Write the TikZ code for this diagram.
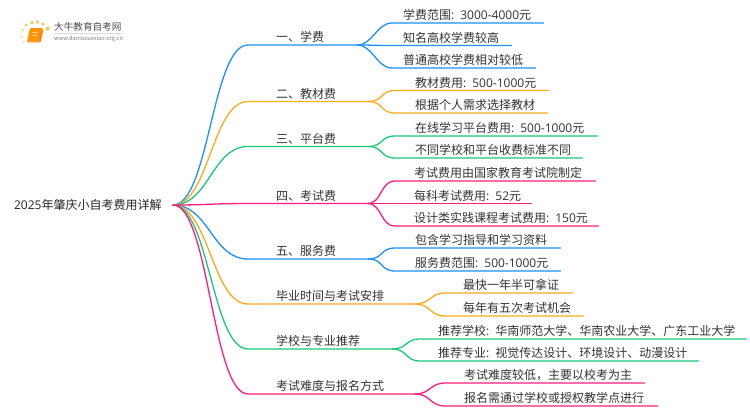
\documentclass[tikz,border=0pt]{standalone}
\usepackage{fontspec}
\setmainfont{Noto Sans CJK SC}
\newfontfamily\latinpart{Open Sans}
\newcommand\lat[1]{{\latinpart #1}}
\usetikzlibrary{calc}
\definecolor{cblue}{HTML}{1E90FF}
\definecolor{corange}{HTML}{FFAA1E}
\definecolor{cgreen}{HTML}{19C97B}
\definecolor{cpink}{HTML}{FF1F7D}
\definecolor{ink}{HTML}{333333}
\definecolor{sun}{HTML}{FBC566}
\tikzset{
  x=1pt,y=-1pt,
  topic/.style={font=\fontsize{12}{14}\selectfont,text=ink,anchor=south west,inner xsep=0pt,inner ysep=0.5pt,
     text height=9.5pt,text depth=2.5pt,align=left,minimum height=0pt},
  link/.style={line width=1.3pt,line cap=round},
  sundot/.style={fill=sun,draw=none},
}
% name, x, y(line), width, text inset, text
\newcommand\topicnode[6]{\node[topic,minimum width=#4pt,text width=#4pt] (#1) at (#2,#3) {\hspace*{#5pt}#6};}
\newcommand\rootlink[2]{\draw[link,#1] (root.east) .. controls ($(root.east)+(36,0)$) and ($(#2.south west)+(-36,0)$) .. (#2.south west) -- (#2.south east);}
\newcommand\forklink[3]{\draw[link,#1] (#2.south east) .. controls ($(#2.south east)+(15,0)$) and ($(#3.south west)+(-15,0)$) .. (#3.south west) -- (#3.south east);}
\begin{document}
\begin{tikzpicture}
\useasboundingbox (0,0) rectangle (750,410);
\fill[white] (0,0) rectangle (750,410);

% logo
\foreach \px/\py/\r in {26/25/1.6,32/22.7/1.8,37.5/22/1.9,43/24/1.9,47.6/28.7/2.1,22.7/30/1.1,21.7/36.7/1,23.3/42/.8}
  \fill[sundot] (\px,\py) circle (\r);
\fill[rounded corners=1pt,fill=orange!85!yellow] (30,28) -- (43,28) -- (40,41.5) -- (27,41.5) -- cycle;
\fill[white!60!orange] (32,32) rectangle (38,33);
\fill[white!60!orange] (31.5,34.5) rectangle (37,35.5);
\draw[orange!85!red,line width=.8pt] (27,42) -- (40,42) -- (43,30);
\node[inner sep=0pt,text=black!70,font=\fontsize{9.6}{11}\selectfont,anchor=west] (logotext) at (54,27) {大牛教育自考网};
\node[inner sep=0pt,text=black!50,font=\fontsize{5.7}{7}\selectfont,anchor=west] (logourl) at (54,38.7) {www.daniuxuexiao.org.cn};
\fill[black!15] (54,33.2) rectangle (121,33.8);

\node[font=\fontsize{12}{14}\selectfont,text=black!85,inner xsep=0pt,inner ysep=2pt,minimum width=159pt,align=left,anchor=east] (root) at (173,205) {\lat{2025}年肇庆小自考费用详解\hspace*{11pt}};

\topicnode{b1}{248}{45}{109}{28}{一、学费}
\topicnode{b2}{248}{101.5}{120}{28}{二、教材费}
\topicnode{b3}{248}{146.5}{120}{28}{三、平台费}
\topicnode{b4}{248}{203.5}{119}{28}{四、考试费}
\topicnode{b5}{248}{259}{120}{28}{五、服务费}
\topicnode{b6}{248}{304}{167}{28}{毕业时间与考试安排}
\topicnode{b7}{248}{349}{144}{28}{学校与专业推荐}
\topicnode{b8}{248}{394}{167}{28}{考试难度与报名方式}

\topicnode{l11}{392}{23}{151}{11}{学费范围\lat{: 3000-4000}元}
\topicnode{l12}{392}{45.5}{119}{11}{知名高校学费较高}
\topicnode{l13}{392}{68}{143}{11}{普通高校学费相对较低}
\topicnode{l21}{395}{90.5}{153}{20}{教材费用\lat{: 500-1000}元}
\topicnode{l22}{395}{113}{152}{20}{根据个人需求选择教材}
\topicnode{l31}{395}{136}{202}{20}{在线学习平台费用\lat{: 500-1000}元}
\topicnode{l32}{395}{158}{187}{20}{不同学校和平台收费标准不同}
\topicnode{l41}{395}{181}{200}{19}{考试费用由国家教育考试院制定}
\topicnode{l42}{395}{203.5}{136}{19}{每科考试费用\lat{: 52}元}
\topicnode{l43}{395}{226}{203}{19}{设计类实践课程考试费用\lat{: 150}元}
\topicnode{l51}{395}{248}{165}{20}{包含学习指导和学习资料}
\topicnode{l52}{395}{271}{165}{20}{服务费范围\lat{: 500-1000}元}
\topicnode{l61}{445}{293}{127}{18}{最快一年半可拿证}
\topicnode{l62}{445}{316}{138}{18}{每年有五次考试机会}
\topicnode{l71}{420}{339}{326}{18}{推荐学校\lat{: }华南师范大学、华南农业大学、广东工业大学}
\topicnode{l72}{420}{361}{278}{18}{推荐专业\lat{: }视觉传达设计、环境设计、动漫设计}
\topicnode{l81}{445}{383}{199}{19}{考试难度较低，主要以校考为主}
\topicnode{l82}{445}{406}{212}{19}{报名需通过学校或授权教学点进行}

\rootlink{cblue}{b1}
\rootlink{corange}{b2}
\rootlink{cgreen}{b3}
\rootlink{cblue}{b5}
\rootlink{corange}{b6}
\rootlink{cgreen}{b7}
\rootlink{cpink}{b8}
\rootlink{cpink}{b4}

\forklink{cblue}{b1}{l11}
\forklink{cblue}{b1}{l12}
\forklink{cblue}{b1}{l13}
\forklink{corange}{b2}{l21}
\forklink{corange}{b2}{l22}
\forklink{cgreen}{b3}{l31}
\forklink{cgreen}{b3}{l32}
\forklink{cpink}{b4}{l41}
\forklink{cpink}{b4}{l42}
\forklink{cpink}{b4}{l43}
\forklink{cblue}{b5}{l51}
\forklink{cblue}{b5}{l52}
\forklink{corange}{b6}{l61}
\forklink{corange}{b6}{l62}
\forklink{cgreen}{b7}{l71}
\forklink{cgreen}{b7}{l72}
\forklink{cpink}{b8}{l81}
\forklink{cpink}{b8}{l82}
\end{tikzpicture}
\end{document}
